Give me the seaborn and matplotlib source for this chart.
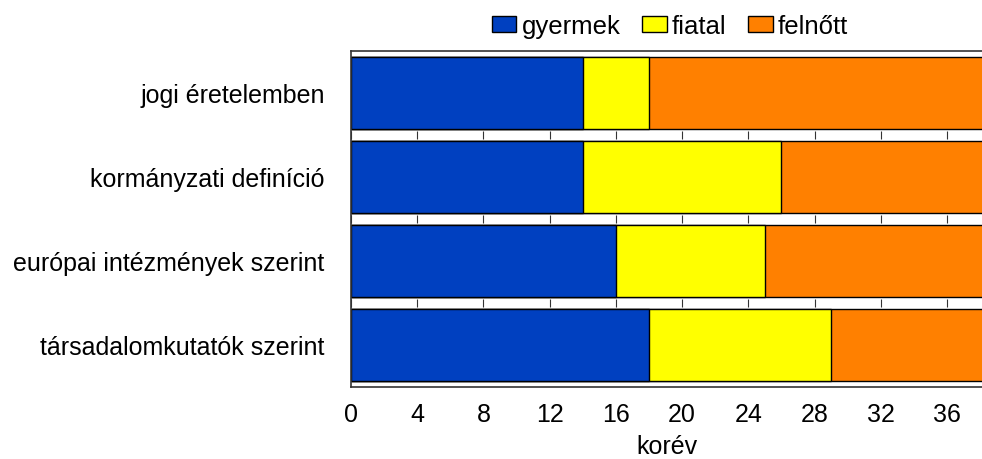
import numpy as np
import pandas as pd
import matplotlib.pyplot as plt
from matplotlib.patches import Patch
import seaborn as sns

# data
categories = ['jogi éretelemben', 'kormányzati definíció',
              'európai intézmények szerint', 'társadalomkutatók szerint']
gyermek_end = [14, 14, 16, 18]
fiatal_end = [18, 26, 25, 29]
felnott_end = [40, 40, 40, 40]
series = ['gyermek', 'fiatal', 'felnőtt']
colors = ['#0040C0', '#FFFF00', '#FF8000']
xticks = list(range(0, 37, 4))

sns.set_style('white')
plt.rcParams['font.family'] = ['Liberation Sans', 'DejaVu Sans']
plt.rcParams['text.color'] = 'black'
plt.rcParams['axes.labelcolor'] = 'black'

df = pd.DataFrame({'kategoria': categories, 'gyermek': gyermek_end,
                   'fiatal': fiatal_end, 'felnőtt': felnott_end})

fig = plt.figure(figsize=(9.82, 4.6), dpi=100)
ax = fig.add_axes([351 / 982, 72 / 460, 1 - 351 / 982, 336 / 460])

# stacked bars: draw the longest first, then overlay
for name, col in zip(series[::-1], colors[::-1]):
    sns.barplot(data=df, x=name, y='kategoria', orient='h', color=col,
                edgecolor='black', linewidth=1.0, width=0.86, ax=ax,
                saturation=1)

# small tick marks in the gaps between the bars
for b in np.arange(len(categories) - 1) + 0.5:
    ax.plot(xticks, [b] * len(xticks), ls='none', marker='|', ms=6,
            mew=0.8, color='#333333', zorder=1)

ax.set_xlim(0, 38.11)
ax.set_ylim(3.5, -0.5)
ax.set_xticks(xticks)
ax.tick_params(axis='x', direction='in', length=6, labelsize=18, pad=11,
               width=0.8, color='#333333', labelcolor='black')
ax.tick_params(axis='y', length=0, labelsize=18, pad=19, labelcolor='black')
ax.set_ylabel('')
ax.set_xlabel('korév', fontsize=18)
ax.xaxis.set_label_coords(0.5, -0.14)
for side in ['top', 'left', 'bottom']:
    ax.spines[side].set_color('#333333')
    ax.spines[side].set_linewidth(1.2)
ax.spines['right'].set_visible(False)

handles = [Patch(facecolor=c, edgecolor='black', linewidth=1.0, label=s)
           for s, c in zip(series, colors)]
fig.legend(handles=handles, loc='center', bbox_to_anchor=(670 / 982, 1 - 27 / 460),
           ncol=3, frameon=False, fontsize=18.5, handlelength=0.95,
           handleheight=0.6, handletextpad=0.2, columnspacing=0.85,
           borderpad=0, borderaxespad=0)

fig.savefig('out.png', dpi=100)
